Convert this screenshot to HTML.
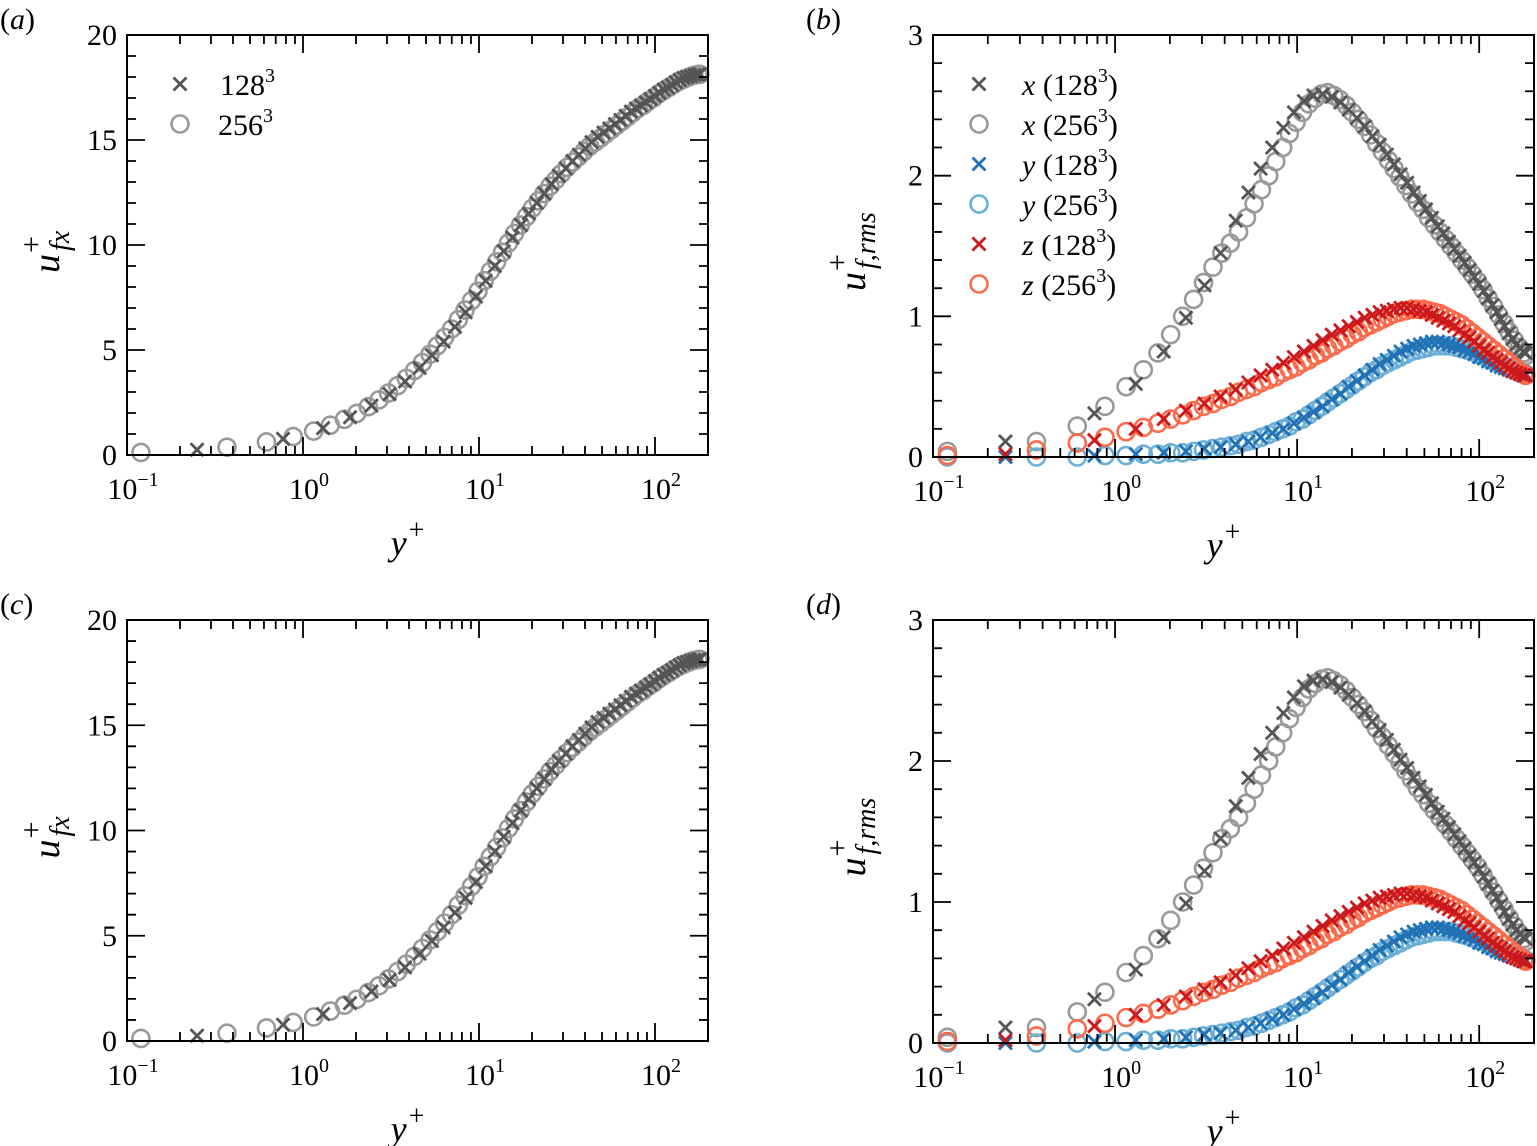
<!DOCTYPE html>
<html><head><meta charset="utf-8"><style>
html,body{margin:0;padding:0;background:#fff;}
svg{display:block;}
text{font-family:"Liberation Serif","Times New Roman",serif;}
</style></head><body>
<svg id="fig" width="1537" height="1146" viewBox="0 0 1537 1146" xmlns="http://www.w3.org/2000/svg" font-family="Liberation Serif, serif"></svg>
<script>
const yp128=[0.25,0.77,1.3,1.85,2.45,3.1,3.8,4.6,5.4,6.3,7.3,8.4,9.6,10.9,12.3,13.8,15.5,17.3,19.2,21.3,23.5,25.9,28.4,31.1,34,37,40.2,43.6,47.2,51,55,59.2,63.6,68.2,73,78,83.2,88.6,94.2,100,106,112,118.3,124.8,131.4,138.2,145.2,152.4,159.8,167.3,175,180];
const yp256=[0.12,0.37,0.62,0.88,1.15,1.43,1.72,2.02,2.35,2.7,3.06,3.45,3.86,4.3,4.77,5.27,5.8,6.37,6.98,7.63,8.33,9.07,9.87,10.7,11.6,12.6,13.6,14.7,15.9,17.2,18.6,20.1,21.7,23.4,25.3,27.3,29.4,31.7,34.1,36.7,39.5,42.5,45.7,49.1,52.7,56.6,60.7,65.1,69.8,74.8,80.1,85.7,91.7,98.1,105,112,120,128,137,146,156,166,176,180];
const u128=[0.25,0.77,1.28,1.8,2.35,2.9,3.5,4.15,4.75,5.4,6.1,6.8,7.55,8.3,9.0,9.7,10.35,10.95,11.5,12.0,12.45,12.9,13.3,13.65,14.0,14.3,14.6,14.9,15.15,15.35,15.55,15.75,15.95,16.15,16.35,16.5,16.65,16.8,16.95,17.1,17.25,17.4,17.5,17.62,17.75,17.85,17.95,18.0,18.05,18.1,18.12,18.14];
const u256=[0.12,0.37,0.62,0.88,1.14,1.42,1.7,1.98,2.3,2.62,2.95,3.3,3.65,4.02,4.4,4.8,5.2,5.6,6.0,6.45,6.9,7.35,7.8,8.3,8.75,9.2,9.65,10.1,10.55,10.95,11.35,11.75,12.1,12.45,12.8,13.1,13.4,13.7,13.95,14.2,14.45,14.7,14.9,15.1,15.3,15.5,15.7,15.9,16.1,16.3,16.5,16.65,16.85,17.0,17.2,17.35,17.5,17.65,17.8,17.9,18.0,18.08,18.12,18.13];
const x128=[0.11,0.31,0.52,0.75,0.99,1.22,1.45,1.68,1.88,2.05,2.2,2.34,2.45,2.53,2.57,2.58,2.56,2.52,2.47,2.41,2.35,2.28,2.22,2.15,2.08,2.01,1.95,1.88,1.82,1.76,1.7,1.64,1.59,1.53,1.48,1.43,1.38,1.33,1.28,1.23,1.18,1.13,1.08,1.03,0.98,0.93,0.88,0.84,0.8,0.77,0.75,0.74];
const x256=[0.04,0.11,0.22,0.36,0.5,0.62,0.74,0.87,1.0,1.12,1.24,1.35,1.45,1.52,1.6,1.7,1.8,1.9,2.0,2.1,2.2,2.3,2.38,2.45,2.51,2.55,2.58,2.59,2.57,2.54,2.5,2.45,2.4,2.35,2.29,2.23,2.17,2.11,2.05,1.99,1.93,1.87,1.81,1.76,1.7,1.65,1.6,1.55,1.5,1.45,1.4,1.35,1.3,1.25,1.19,1.13,1.07,1.01,0.95,0.89,0.83,0.78,0.74,0.72];
const y128=[0.0,0.01,0.02,0.03,0.04,0.06,0.07,0.09,0.11,0.14,0.17,0.2,0.24,0.28,0.32,0.36,0.41,0.45,0.5,0.54,0.58,0.62,0.66,0.69,0.72,0.75,0.77,0.79,0.8,0.81,0.82,0.82,0.81,0.8,0.79,0.78,0.76,0.75,0.73,0.71,0.7,0.68,0.67,0.65,0.64,0.63,0.62,0.61,0.6,0.59,0.59,0.59];
const y256=[0.0,0.0,0.0,0.01,0.01,0.02,0.02,0.03,0.03,0.04,0.05,0.06,0.07,0.08,0.09,0.11,0.12,0.14,0.16,0.18,0.2,0.22,0.25,0.27,0.3,0.33,0.36,0.39,0.42,0.45,0.48,0.51,0.54,0.57,0.6,0.62,0.65,0.67,0.69,0.71,0.73,0.75,0.76,0.77,0.78,0.79,0.79,0.79,0.79,0.78,0.77,0.76,0.75,0.73,0.72,0.7,0.68,0.67,0.65,0.63,0.62,0.6,0.59,0.59];
const z128=[0.02,0.12,0.2,0.27,0.33,0.38,0.43,0.48,0.53,0.58,0.62,0.67,0.71,0.75,0.79,0.83,0.87,0.9,0.93,0.96,0.99,1.01,1.03,1.04,1.05,1.06,1.06,1.05,1.04,1.03,1.01,0.99,0.97,0.95,0.93,0.9,0.87,0.85,0.82,0.79,0.76,0.74,0.71,0.69,0.67,0.65,0.63,0.61,0.6,0.59,0.58,0.58];
const z256=[0.01,0.05,0.1,0.14,0.18,0.21,0.24,0.27,0.3,0.33,0.36,0.38,0.41,0.43,0.46,0.48,0.5,0.53,0.55,0.57,0.6,0.62,0.64,0.67,0.69,0.72,0.74,0.77,0.79,0.82,0.84,0.87,0.89,0.92,0.94,0.96,0.98,1.0,1.02,1.03,1.04,1.05,1.05,1.05,1.04,1.03,1.02,1.0,0.98,0.96,0.94,0.91,0.88,0.85,0.82,0.79,0.76,0.73,0.7,0.67,0.64,0.61,0.59,0.58];
const xTickExp=[-1,0,1,2];
const meanTicks=[0,5,10,15,20];
const rmsTicks=[0,1,2,3];

const NS="http://www.w3.org/2000/svg";
const svg=document.getElementById('fig');
const FONT='"Liberation Serif", serif';
function mk(tag,attrs,parent){const e=document.createElementNS(NS,tag);for(const k in attrs)e.setAttribute(k,attrs[k]);if(tag==='text')e.style.fontFamily=FONT;(parent||svg).appendChild(e);return e;}

const C={dg:'#555555',lg:'#999999',db:'#2171b5',lb:'#6baed6',dr:'#cb181d',lr:'#fb6a4a'};

function cross(g,x,y,col){const s=6.5;
 const p=mk('path',{d:`M${x-s},${y-s}L${x+s},${y+s}M${x-s},${y+s}L${x+s},${y-s}`,stroke:col,'stroke-width':2.8,fill:'none'},g);
 
 }
function circ(g,x,y,col){
 const c=mk('circle',{cx:x,cy:y,r:8.5,stroke:col,'stroke-width':2.6,fill:'none'},g);
 
 }

function panel(id,letter,x0,x1,y0,y1,ymax,ymaj,ymin,yt,ylabelSub,series,legend){
 const g=mk('g',{});
 
 
 const lx=Math.log10(0.1),hx=Math.log10(200);
 const X=v=>x0+(Math.log10(v)-lx)/(hx-lx)*(x1-x0);
 const Y=v=>y1-v/ymax*(y1-y0);
 const mg=mk('g',{},g);
 
 
 series.forEach(s=>{s.x.forEach((xv,i)=>{const px=X(xv),py=Y(s.y[i]);if(px>x1+10)return;(s.t==='x'?cross:circ)(mg,px,py,s.c);});});
 const fr=mk('rect',{x:x0,y:y0,width:x1-x0,height:y1-y0,fill:'none',stroke:'#000','stroke-width':2},g);
 
 
 let d='';
 for(let e=-1;e<=2;e++){for(let m=1;m<10;m++){const v=m*Math.pow(10,e);if(v>200)break;const px=X(v);const L=m===1?18:9;
   d+=`M${px},${y1}V${y1-L}M${px},${y0}V${y0+L}`;}}
 for(let v=0;v<=ymax+1e-9;v+=ymin){const py=Y(v);const maj=Math.abs(v/ymaj-Math.round(v/ymaj))<1e-6;const L=maj?18:9;
   d+=`M${x0},${py}H${x0+L}M${x1},${py}H${x1-L}`;}
 const tk=mk('path',{d:d,stroke:'#000','stroke-width':1.8,fill:'none'},g);
 
 
 xTickExp.forEach(e=>{const t=mk('text',{x:X(Math.pow(10,e))+6,y:y1+44,'font-size':30,'text-anchor':'middle'},g);
  
  
  t.textContent='10';const s=mk('tspan',{dy:-13,'font-size':20},t);s.textContent=e<0?'\u2212'+(-e):String(e);});
 yt.forEach(v=>{const t=mk('text',{x:x0-10,y:Y(v)+10,'font-size':30,'text-anchor':'end'},g);
  
  
  t.textContent=String(v);});
 const xl=mk('text',{x:(x0+x1)/2-10,y:y1+100,'font-size':36,'font-style':'italic','text-anchor':'middle'},g);
 
 
 xl.textContent='y';const xs=mk('tspan',{dy:-16,dx:2,'font-size':28,'font-style':'normal'},xl);xs.textContent='+';
 // y label (rotated group)
 const yc=(y0+y1)/2;
 const yg=mk('g',{transform:`translate(${x0-68},${yc+ (ylabelSub==='fx'?28:45)}) rotate(-90)`},g);
 
 
 const u=mk('text',{x:0,y:0,'font-size':38,'font-style':'italic'},yg);u.textContent='u';
 const pl=mk('text',{x:20,y:-18,'font-size':30},yg);pl.textContent='+';
 const sb=mk('text',{x:22,y:10,'font-size':28,'font-style':'italic'},yg);sb.textContent=ylabelSub;
 const lt=mk('text',{x:x0-127,y:y0-6,'font-size':30},g);
 
 
 lt.textContent='(';const li=mk('tspan',{'font-style':'italic'},lt);li.textContent=letter;const lc=mk('tspan',{},lt);lc.textContent=')';
 const lg=mk('g',{},g);
 
 
 legend.forEach((it,i)=>{const cy=y0+49+i*40;(it.t==='x'?cross:circ)(lg,it.mx,cy,it.c);
  const t=mk('text',{x:it.tx,y:cy+11,'font-size':30},lg);
  
  
  if(it.v){const v=mk('tspan',{'font-style':'italic'},t);v.textContent=it.v+' ';const p=mk('tspan',{},t);p.textContent='('+it.n;}
  else{const p=mk('tspan',{},t);p.textContent=it.n;}
  const s=mk('tspan',{dy:-13,'font-size':20},t);s.textContent='3';
  if(it.v){const c=mk('tspan',{dy:13},t);c.textContent=')';}
 });
}
function meanSeries(){return [{x:yp256,y:u256,t:'o',c:C.lg},{x:yp128,y:u128,t:'x',c:C.dg}];}
function rmsSeries(){return [{x:yp256,y:x256,t:'o',c:C.lg},{x:yp128,y:x128,t:'x',c:C.dg},{x:yp256,y:y256,t:'o',c:C.lb},{x:yp128,y:y128,t:'x',c:C.db},{x:yp256,y:z256,t:'o',c:C.lr},{x:yp128,y:z128,t:'x',c:C.dr}];}
const legA=[{t:'x',c:C.dg,n:'128',mx:180,tx:220},{t:'o',c:C.lg,n:'256',mx:180,tx:218}];
const legB=[{t:'x',c:C.dg,v:'x',n:'128',mx:979,tx:1022},{t:'o',c:C.lg,v:'x',n:'256',mx:979,tx:1022},{t:'x',c:C.db,v:'y',n:'128',mx:979,tx:1022},{t:'o',c:C.lb,v:'y',n:'256',mx:979,tx:1022},{t:'x',c:C.dr,v:'z',n:'128',mx:979,tx:1022},{t:'o',c:C.lr,v:'z',n:'256',mx:979,tx:1022}];
panel('a','a',127,708,35,455,20,5,1,meanTicks,'fx',meanSeries(),legA);
panel('b','b',933,1534,35,457,3,1,0.2,rmsTicks,'f,rms',rmsSeries(),legB);
panel('c','c',127,708,620,1041,20,5,1,meanTicks,'fx',meanSeries(),[]);
panel('d','d',933,1534,620,1043,3,1,0.2,rmsTicks,'f,rms',rmsSeries(),[]);
</script>
</body></html>
